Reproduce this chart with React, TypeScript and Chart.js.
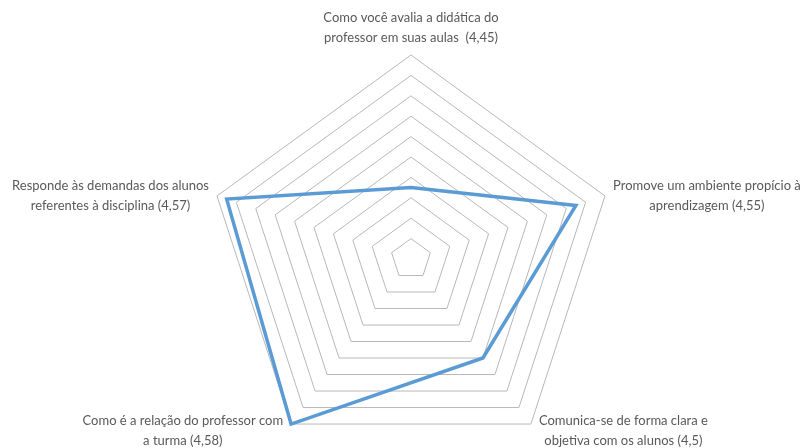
import React, { useEffect, useRef } from "react";
import { Chart, registerables } from "chart.js";

Chart.register(...registerables);

const categories: string[][] = [
  ["Como você avalia a didática do", "professor em suas aulas  (4,45)"],
  ["Promove um ambiente propício à", "aprendizagem (4,55)"],
  ["Comunica-se de forma clara e", "objetiva com os alunos (4,5)"],
  ["Como é a relação do professor com", "a turma (4,58)"],
  ["Responde às demandas dos alunos", "referentes à disciplina (4,57)"],
];
const values: number[] = [4.45, 4.55, 4.5, 4.58, 4.57];
const scaleMin = 4.38;
const scaleMax = 4.58;
const tickCount = 11;

const FONT = "Lato";
const TEXT_COLOR = "#595959";
const LINE_H = 20;
const GAP = 8;

const labelPlugin = {
  id: "excelLabels",
  afterDraw(chart: any) {
    const scale = chart.scales.r;
    const ctx = chart.ctx;
    ctx.save();
    ctx.font = `13px ${FONT}`;
    ctx.fillStyle = TEXT_COLOR;
    ctx.textAlign = "center";
    ctx.textBaseline = "middle";
    categories.forEach((lines, i) => {
      const p = scale.getPointPosition(i, scale.drawingArea);
      const w = Math.max(...lines.map((l) => ctx.measureText(l).width));
      const h = lines.length * LINE_H;
      let cx: number;
      let top: number;
      const dx = p.x - scale.xCenter;
      const dy = p.y - scale.yCenter;
      if (Math.abs(dx) < 1) {
        cx = p.x;
        top = dy < 0 ? p.y - GAP + 1 - h : p.y + GAP;
      } else {
        cx = dx > 0 ? p.x + GAP + w / 2 : p.x - GAP - w / 2;
        top = dy < 0 ? p.y - h / 2 : p.y - LINE_H / 2 - 3;
      }
      lines.forEach((l, k) => {
        ctx.fillText(l, cx, top + LINE_H / 2 + k * LINE_H);
      });
    });
    ctx.restore();
  },
};

export default function App() {
  const ref = useRef<HTMLCanvasElement>(null);
  useEffect(() => {
    if (!ref.current) return;
    const chart = new Chart(ref.current, {
      type: "radar",
      data: {
        labels: categories,
        datasets: [
          {
            data: values,
            borderColor: "#5B9BD5",
            borderWidth: 3.5,
            fill: false,
            pointRadius: 0,
            pointHoverRadius: 0,
            tension: 0,
          },
        ],
      },
      options: {
        responsive: false,
        animation: false,
        layout: { padding: { left: 207, right: 192, top: 55, bottom: 0 } },
        plugins: { legend: { display: false }, tooltip: { enabled: false } },
        scales: {
          r: {
            min: scaleMin,
            max: scaleMax,
            startAngle: 0,
            ticks: { display: false, count: tickCount },
            grid: { color: "#b8b8b8", lineWidth: 1 },
            angleLines: { display: false },
            pointLabels: { display: false },
          },
        },
      },
      plugins: [labelPlugin],
    });
    return () => chart.destroy();
  }, []);
  return (
    <div
      style={{
        position: "absolute",
        left: 0,
        top: 0,
        width: 807,
        height: 448,
        overflow: "hidden",
        background: "#fff",
      }}
    >
      <canvas ref={ref} width={807} height={463} style={{ display: "block" }} />
    </div>
  );
}
